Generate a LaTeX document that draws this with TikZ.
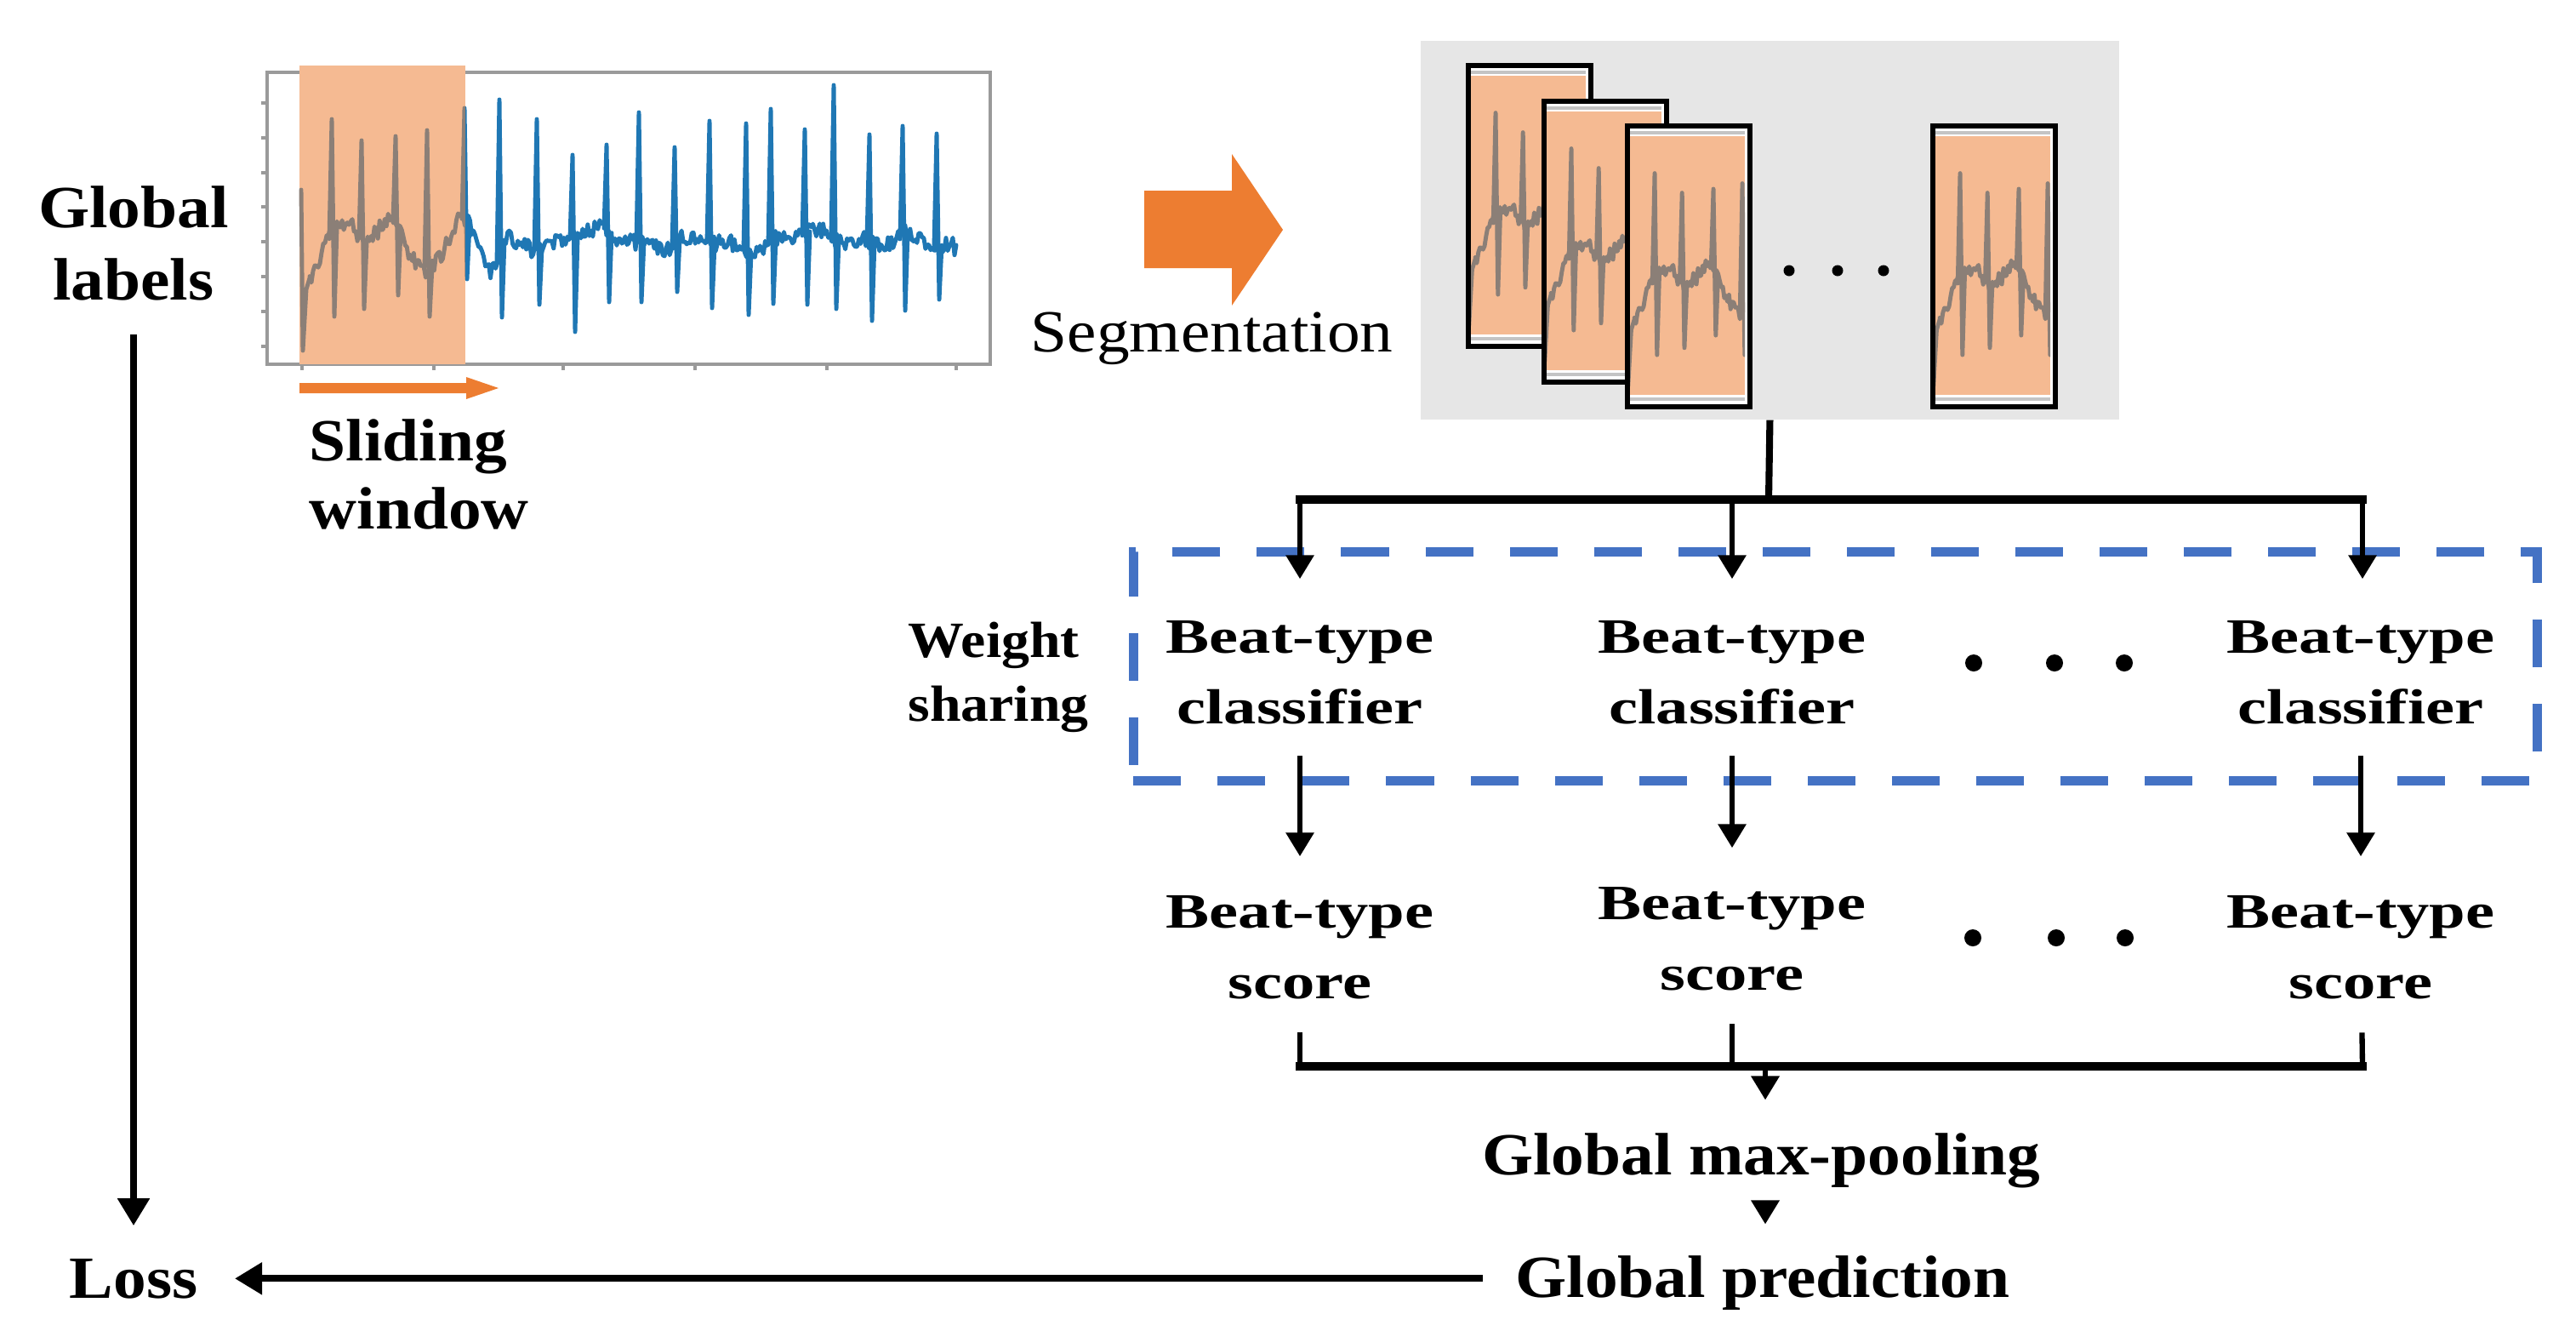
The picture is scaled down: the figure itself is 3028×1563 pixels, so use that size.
\documentclass[tikz,border=0pt]{standalone}
\usepackage{fontspec}
\setmainfont{Liberation Serif}[FakeStretch=1.1]
\newfontfamily\wideserif{Liberation Serif}[FakeStretch=1.32]
\usetikzlibrary{arrows.meta,calc}
\definecolor{ecgblue}{HTML}{1F77B4}
\definecolor{wingray}{HTML}{8B7F77}
\definecolor{winorange}{HTML}{F5BA92}
\definecolor{arrorange}{HTML}{ED7D31}
\definecolor{boxgray}{HTML}{E6E6E6}
\definecolor{dashblue}{HTML}{4472C4}
\definecolor{axgray}{HTML}{9A9A9A}
\definecolor{lightax}{HTML}{C4C4C4}

\newcommand{\ecgsignal}[3]{%
  \pgfmathsetseed{4321}%
  \draw[sigline,draw=#1] (354,223) -- (356,412) -- (360,340) -- (364,{ecgb(364)});
  \draw[sigline,draw=#1] plot[domain=364:#2, samples=#3] (\x,{ecgb(\x)+10*rand});
  \foreach \sx/\sa/\sb in {390/140/372, 425/165/363, 465/160/347, 502/153/372,
      546/127/328, 587/117/373, 631/140/358, 673/182/390, 713/170/355,
      751/132/355, 793/173/343, 834/142/362, 877/145/370, 906/128/357,
      946/152/358, 980/100/363, 1022/158/377, 1061/148/365, 1101/157/352}{%
    \draw[sigline,draw=#1] ({\sx-3},{ecgb(\sx-3)}) -- (\sx,\sa) -- ({\sx+3},\sb) -- ({\sx+6},{ecgb(\sx+6)});
  }%
}

\newcommand{\segframe}[2]{%
  \fill[white] (#1,#2) rectangle ++(144,330);
  \fill[winorange] ({#1+3},{#2+12}) rectangle ({#1+138},{#2+316});
  \draw[lightax, line width=1pt] ({#1+3},{#2+8}) -- ({#1+138},{#2+8});
  \draw[lightax, line width=1pt] ({#1+3},{#2+321}) -- ({#1+138},{#2+321});
  \begin{scope}
    \clip ({#1+3},{#2+12}) rectangle ({#1+138},{#2+316});
    \begin{scope}[shift={({#1+32},{#2+5})}, scale=0.92, shift={(-390,-85)}]
      \ecgsignal{wingray}{600}{120}
    \end{scope}
  \end{scope}
  \draw[segframe] (#1,#2) rectangle ++(144,330);
}

\begin{document}
\begin{tikzpicture}[x=0.01cm, y=-0.01cm,
  declare function={bp(\t,\c,\w)=max(0,1-((\t-\c)/\w)*((\t-\c)/\w));
    ecgb(\t)=283+45*bp(\t,356,25)-18*bp(\t,405,22)+8*bp(\t,432,14)-12*bp(\t,462,18)+32*bp(\t,498,22)-30*bp(\t,540,18)+35*bp(\t,576,15)+4*sin(7*\t)+7*sin(2.9*\t+40)+5*sin(1.3*\t+70);},
  lbl/.style={inner sep=0pt, font=\bfseries\fontsize{20}{24}\selectfont, align=center},
  btlbl/.style={inner sep=0pt, font=\wideserif\bfseries\fontsize{16.5}{23.6}\selectfont, align=center},
  sigline/.style={line width=1.4pt, line join=round, line cap=round},
  conn/.style={line width=1.8pt},
  arr/.style={conn, -{Triangle[length=0.28cm, width=0.32cm]}},
  thickarr/.style={line width=2.3pt, -{Triangle[length=0.32cm, width=0.36cm]}},
  busline/.style={line width=2.8pt, line cap=rect},
  segframe/.style={draw=black, line width=1.6pt},
  dot/.style={fill=black},
]
\useasboundingbox (0,0) rectangle (3028,1563);

% ---------- ECG plot ----------
\draw[axgray, line width=1.2pt] (314,85) rectangle (1164,428);
\foreach \ty in {121,162,203,243,284,325,366,407}{\draw[axgray, line width=1pt] (307,\ty) -- (314,\ty);}
\foreach \tx in {355,510,662,817,972,1124}{\draw[axgray, line width=1pt] (\tx,428) -- (\tx,435);}
\fill[winorange] (352,77) rectangle (547,428);
\begin{scope}
  \clip (300,60) rectangle (547,440);
  \ecgsignal{wingray}{1124}{380}
\end{scope}
\begin{scope}
  \clip (547,60) rectangle (1170,440);
  \ecgsignal{ecgblue}{1124}{380}
\end{scope}

% sliding window arrow
\fill[arrorange] (352,450) -- (548,450) -- (548,443) -- (586,456) -- (548,469) -- (548,462) -- (352,462) -- cycle;

% big segmentation arrow
\fill[arrorange] (1345,224) -- (1448,224) -- (1448,181) -- (1508,270) -- (1448,359) -- (1448,315) -- (1345,315) -- cycle;

% ---------- texts ----------
\node[lbl, anchor=base] (glob) at (157,352) {Global\\labels};
\node[lbl, anchor=base] (loss) at (157,1525) {Loss};
\node[inner sep=0pt, font=\bfseries\fontsize{20}{22.5}\selectfont, align=left, anchor=base west] (slide) at (363,621) {Sliding\\window};
\node[inner sep=0pt, font=\fontsize{20}{24}\selectfont, anchor=base east] (seg) at (1638,413) {Segmentation};

% ---------- segments box ----------
\node[fill=boxgray, inner sep=0pt, minimum width=8.21cm, minimum height=4.45cm, anchor=north west] (gbox) at (1669,47) {};
\segframe{1726}{77}
\segframe{1815}{119}
\segframe{1913}{148}
\segframe{2272}{148}
\fill[dot] (2103,318) circle[radius=0.065cm];
\fill[dot] (2160,318) circle[radius=0.065cm];
\fill[dot] (2214,318) circle[radius=0.065cm];

% ---------- weight sharing ----------
\node[draw=dashblue, line width=3pt, dash pattern=on 0.56cm off 0.43cm, inner sep=0pt,
      minimum width=16.49cm, minimum height=2.69cm, anchor=north west] (share) at (1327,643) {};
\node[inner sep=0pt, font=\bfseries\fontsize{17}{21.3}\selectfont, align=left, anchor=base west] (ws) at (1067,847) {Weight\\sharing};

\node[btlbl, anchor=base] (c1) at (1528,850) {Beat-type\\classifier};
\node[btlbl, anchor=base] (c2) at (2036,850) {Beat-type\\classifier};
\node[btlbl, anchor=base] (c3) at (2775,850) {Beat-type\\classifier};
\fill[dot] (2320,779) circle[radius=0.1cm];
\fill[dot] (2415,779) circle[radius=0.1cm];
\fill[dot] (2497,779) circle[radius=0.1cm];

\node[btlbl, anchor=base] (s1) at (1528,1173) {Beat-type\\score};
\node[btlbl, anchor=base] (s2) at (2036,1163) {Beat-type\\score};
\node[btlbl, anchor=base] (s3) at (2775,1173) {Beat-type\\score};
\fill[dot] (2319,1102) circle[radius=0.1cm];
\fill[dot] (2417,1102) circle[radius=0.1cm];
\fill[dot] (2498,1102) circle[radius=0.1cm];

\node[lbl, anchor=base] (gmp) at (2070,1380) {Global max-pooling};
\node[lbl, anchor=base] (gp) at (2072,1524) {Global prediction};

% ---------- connectors ----------
\coordinate (bj) at (2079,587);
\coordinate (b1) at (1528,587);
\coordinate (b2) at (2036,587);
\coordinate (b3) at (2777,587);
\draw[line width=2.3pt] (gbox.south) -- (bj);
\draw[busline] (b1) -- (b3);
\draw[arr, shorten >=0.48cm] (b1) -- (b1 |- c1.north);
\draw[arr, shorten >=0.48cm] (b2) -- (b2 |- c2.north);
\draw[arr, shorten >=0.48cm] (b3) -- (b3 |- c3.north);

\draw[arr, shorten <=0.37cm, shorten >=0.45cm] (c1) -- (s1);
\draw[arr, shorten <=0.37cm, shorten >=0.45cm] (c2) -- (s2);
\draw[arr, shorten <=0.37cm, shorten >=0.45cm] (c3) -- (s3);

\coordinate (q1) at (1528,1253);
\coordinate (q2) at (2075,1253);
\coordinate (q3) at (2777,1253);
\draw[conn, shorten <=0.39cm] (s1) -- (q1);
\draw[conn, shorten <=0.39cm] (s2) -- (s2 |- q1);
\draw[conn, shorten <=0.39cm] (s3) -- (q3);
\draw[busline] (q1) -- (q3);
\draw[arr, shorten >=0.38cm] (q2) -- (q2 |- gmp.north);
\draw[arr, shorten <=0.15cm, shorten >=0.36cm] (q2 |- gmp.south) -- (q2 |- gp.north);

\draw[thickarr, shorten <=0.40cm, shorten >=0.38cm] (glob) -- (loss);
\draw[thickarr, shorten <=0.38cm, shorten >=0.43cm] (gp.west |- loss.east) -- (loss.east);
\end{tikzpicture}
\end{document}
